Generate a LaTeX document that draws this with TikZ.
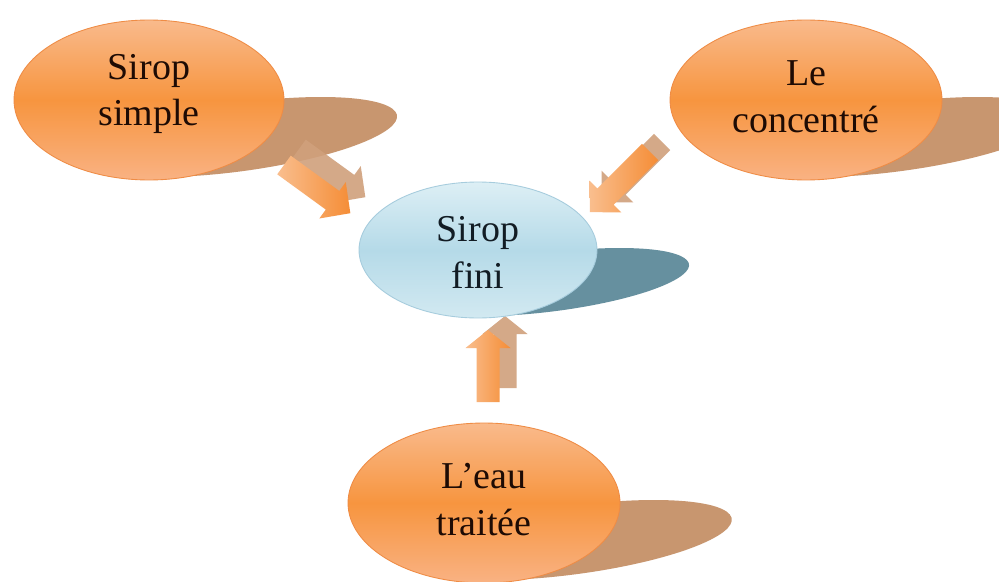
\documentclass[tikz,border=0pt]{standalone}
\usepackage{fontspec}
\setmainfont{Liberation Serif}
\usetikzlibrary{shapes.geometric}
\definecolor{orTop}{HTML}{F9BA8C}
\definecolor{orMid}{HTML}{F7953F}
\definecolor{orBot}{HTML}{F9B283}
\definecolor{orRim}{HTML}{EF8C45}
\definecolor{orShadow}{HTML}{C8966F}
\definecolor{blTop}{HTML}{DDEFF5}
\definecolor{blMid}{HTML}{B5DAE8}
\definecolor{blBot}{HTML}{D2E9F1}
\definecolor{blRim}{HTML}{A6CCDD}
\definecolor{blShadow}{HTML}{66909F}
\definecolor{arLight}{HTML}{F9BE8E}
\definecolor{arDark}{HTML}{F58D36}
\definecolor{arShadow}{HTML}{D0A07C}
\definecolor{txtOr}{HTML}{1E0B04}
\definecolor{txtBl}{HTML}{121C24}
\newcommand{\blockarr}[5]{%
  \path[#1, shift={#2}, rotate=#3]
    (0,-11.5) -- ({#4-#5},-11.5) -- ({#4-#5},-22.5) -- (#4,0)
    -- ({#4-#5},22.5) -- ({#4-#5},11.5) -- (0,11.5) -- cycle;}
\begin{document}
\begin{tikzpicture}[x=0.02cm,y=-0.02cm,
  labeltext/.style={align=center,font=\fontsize{21.6pt}{26.7pt}\selectfont},
  orell/.style={ellipse, inner sep=0pt, minimum width=5.4cm, minimum height=3.2cm,
    top color=orTop, bottom color=orBot, middle color=orMid,
    draw=orRim, line width=0.5pt},
  blell/.style={ellipse, inner sep=0pt, minimum width=4.76cm, minimum height=2.72cm,
    top color=blTop, bottom color=blBot, middle color=blMid,
    draw=blRim, line width=0.5pt},
  ortext/.style={labeltext, text=txtOr},
  bltext/.style={labeltext, text=txtBl},
  shadowtf/.style={xslant=2, yscale=0.5},
  arrfill/.style={left color=arLight, right color=arDark},
  arrshadow/.style={fill=arShadow, opacity=0.9}]
\useasboundingbox (0,0) rectangle (999,581);
\clip (0,0) rectangle (999,581);
\fill[white] (0,0) rectangle (999,581);

% perspective shadows of the ellipses
\begin{scope}[shift={(161,177)}, shadowtf]
  \fill[orShadow] (0,-80) ellipse [x radius=134, y radius=80];
\end{scope}
\begin{scope}[shift={(818,177)}, shadowtf]
  \fill[orShadow] (0,-80) ellipse [x radius=136, y radius=80];
\end{scope}
\begin{scope}[shift={(494,580)}, shadowtf]
  \fill[orShadow] (0,-80) ellipse [x radius=136, y radius=80];
\end{scope}
\begin{scope}[shift={(484,316)}, shadowtf]
  \fill[blShadow] (0,-68) ellipse [x radius=119, y radius=68];
\end{scope}

% arrow anchors
\coordinate (a1) at (284,165);
\coordinate (a1s) at (299,149);
\coordinate (a2) at (650,152);
\coordinate (a2s) at (662,142);
\coordinate (a3) at (488,402);
\coordinate (a3s) at (505,388);

% arrow shadows
\blockarr{arrshadow}{(a1s)}{-36}{82}{22}
\blockarr{arrshadow}{(a2s)}{-135}{85}{22}
\blockarr{arrshadow}{(a3s)}{90}{72}{18}
% arrows
\blockarr{arrfill}{(a1)}{-36}{82}{22}
\blockarr{arrfill}{(a2)}{-135}{85}{22}
\blockarr{arrfill}{(a3)}{90}{72}{18}

% ellipses
\node[orell] (simple) at (149,100) {};
\node[orell, minimum width=5.44cm] (conc) at (806,100) {};
\node[orell, minimum width=5.44cm] (eau) at (484,503) {};
\node[blell] (fini) at (478,250) {};

% texts
\node[ortext] (simpleT) at (149,94) {Sirop\\simple};
\node[ortext] (concT) at (806,97) {Le\\concentré};
\node[ortext] (eauT) at (484,500) {L’eau\\traitée};
\node[bltext] (finiT) at (478,252) {Sirop\\fini};
\end{tikzpicture}
\end{document}
